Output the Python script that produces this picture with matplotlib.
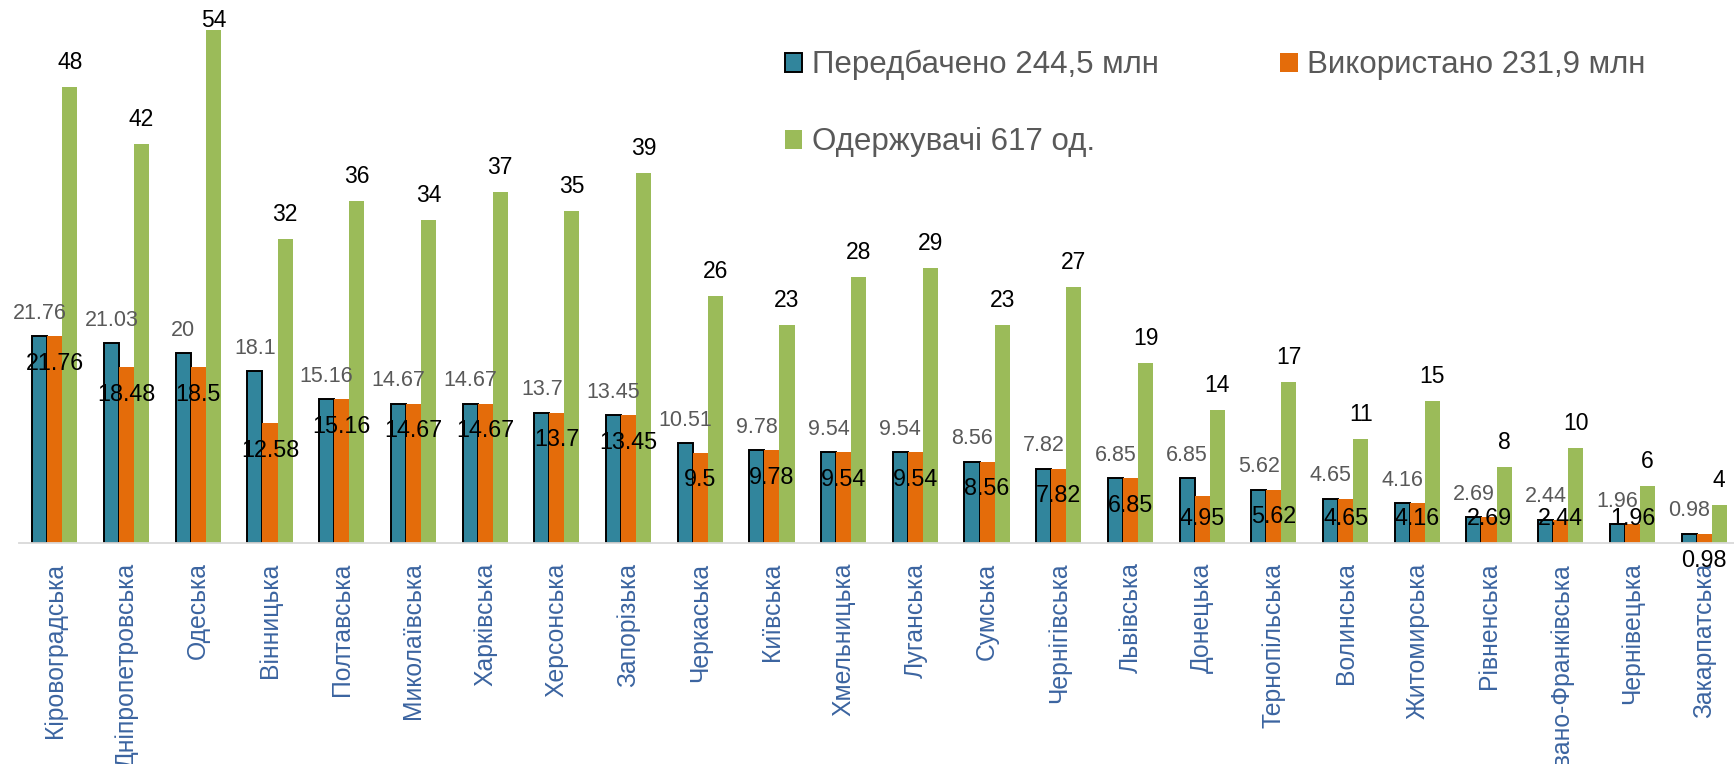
"""plot.py: planned vs used funds and recipients by region"""
import numpy as np
import matplotlib
matplotlib.use("Agg")
import matplotlib.pyplot as plt

plt.rcParams['font.family'] = ['Liberation Sans', 'DejaVu Sans']

FIG_W, FIG_H, DPI = 1734, 764, 100
BLUE = '#31859C'
ORANGE = '#E46C0A'
GREEN = '#9BBB59'
GREY_TEXT = '#595959'
TICK_COLOR = '#3B64A0'
BAR_W = 0.21

regions = ['Кіровоградська', 'Дніпропетровська', 'Одеська', 'Вінницька',
           'Полтавська', 'Миколаївська', 'Харківська', 'Херсонська',
           'Запорізька', 'Черкаська', 'Київська', 'Хмельницька', 'Луганська',
           'Сумська', 'Чернігівська', 'Львівська', 'Донецька',
           'Тернопільська', 'Волинська', 'Житомирська', 'Рівненська',
           'Івано-Франківська', 'Чернівецька', 'Закарпатська']
planned = [21.76, 21.03, 20, 18.1, 15.16, 14.67, 14.67, 13.7, 13.45, 10.51,
           9.78, 9.54, 9.54, 8.56, 7.82, 6.85, 6.85, 5.62, 4.65, 4.16, 2.69,
           2.44, 1.96, 0.98]
used = [21.76, 18.48, 18.5, 12.58, 15.16, 14.67, 14.67, 13.7, 13.45, 9.5,
        9.78, 9.54, 9.54, 8.56, 7.82, 6.85, 4.95, 5.62, 4.65, 4.16, 2.69,
        2.44, 1.96, 0.98]
recipients = [48, 42, 54, 32, 36, 34, 37, 35, 39, 26, 23, 28, 29, 23, 27, 19,
              14, 17, 11, 15, 8, 10, 6, 4]
series_names = ['Передбачено 244,5 млн', 'Використано 231,9 млн',
                'Одержувачі 617 од.']

fig = plt.figure(figsize=(FIG_W / DPI, FIG_H / DPI), dpi=DPI)
ax = fig.add_axes([19 / FIG_W, 221 / FIG_H, 1721 / FIG_W, 532 / FIG_H])

x = np.arange(len(regions))
b1 = ax.bar(x - BAR_W, planned, BAR_W, color=BLUE, edgecolor='black',
            linewidth=1.4, zorder=2)
b2 = ax.bar(x, used, BAR_W, color=ORANGE, zorder=2)
b3 = ax.bar(x + BAR_W, recipients, BAR_W, color=GREEN, zorder=2)

ax.set_xlim(-0.5, 23.5)
ax.set_ylim(0, 56)

# grey values above the planned bars
for xi, v in zip(x, planned):
    ax.annotate('{:g}'.format(v), (xi - BAR_W, v), xytext=(0, 16.5),
                textcoords='offset points', ha='center', va='center',
                fontsize=15.5, color=GREY_TEXT)

# black values just inside the top of the used bars
for xi, v in zip(x, used):
    y = v - 2.85
    if v > 1.5:
        y = max(y, 2.55)
    ax.text(xi, y, '{:g}'.format(v), ha='center', va='center',
            fontsize=16.8, color='black', zorder=4)

for xi, v in zip(x, recipients):
    ax.text(xi + BAR_W, min(v + 2.55, 54.95), '{:g}'.format(v), ha='center',
            va='center', fontsize=16.5, color='black', zorder=4)

ax.set_xticks(x)
ax.set_xticklabels(regions, rotation=90, fontsize=17.8, color=TICK_COLOR)
ax.tick_params(axis='x', length=0, pad=14)
ax.set_yticks([])
for side in ['top', 'right', 'left']:
    ax.spines[side].set_visible(False)
ax.spines['bottom'].set_color('#D9D9D9')
ax.spines['bottom'].set_linewidth(1.3)

leg = fig.legend([b1, b3, b2], [series_names[0], series_names[2], series_names[1]],
                 ncol=2, loc='upper left',
                 bbox_to_anchor=(785 / FIG_W, 1 - 50 / FIG_H),
                 frameon=False, fontsize=22.5, borderpad=0, borderaxespad=0,
                 handlelength=0.55, handleheight=0.55, handletextpad=0.3,
                 columnspacing=3.9, labelspacing=1.5)
for t in leg.get_texts():
    t.set_color(GREY_TEXT)

fig.savefig('out.png', dpi=DPI)
